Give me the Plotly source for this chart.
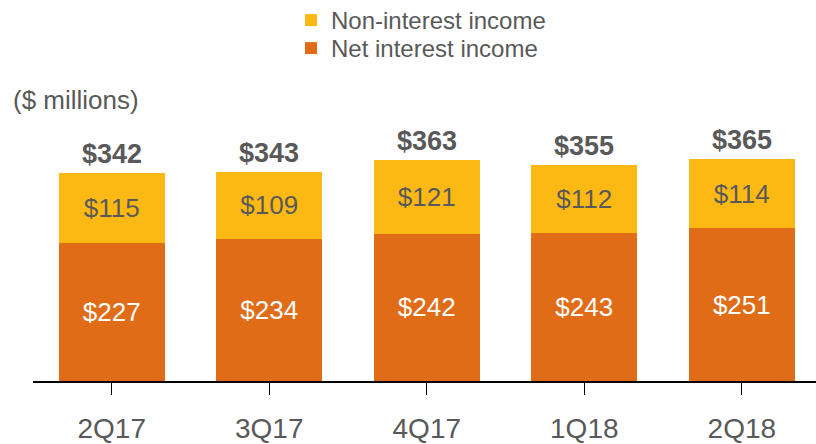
import plotly.graph_objects as go

quarters = ["2Q17", "3Q17", "4Q17", "1Q18", "2Q18"]
net_interest = [227, 234, 242, 243, 251]
non_interest = [115, 109, 121, 112, 114]
totals = [342, 343, 363, 355, 365]

ORANGE = "#E06C17"
YELLOW = "#FDB913"
GRAY = "#595959"
FONT = "Liberation Sans, Arial, sans-serif"

fig = go.Figure()
fig.add_trace(go.Bar(
    x=quarters, y=net_interest, name="Net interest income", legend="legend2",
    marker=dict(color=ORANGE, line=dict(width=0)),
    text=[f"${v}" for v in net_interest], textposition="inside",
    insidetextanchor="middle", textfont=dict(color="white", size=26, family=FONT),
    hoverinfo="skip",
))
fig.add_trace(go.Bar(
    x=quarters, y=non_interest, name="Non-interest income", legend="legend",
    marker=dict(color=YELLOW, line=dict(width=0)),
    text=[f"${v}" for v in non_interest], textposition="inside",
    insidetextanchor="middle", textfont=dict(color=GRAY, size=26, family=FONT),
    hoverinfo="skip",
))

for q, t in zip(quarters, totals):
    fig.add_annotation(x=q, y=t, text=f"<b>${t}</b>", showarrow=False,
                       yanchor="bottom", yshift=2,
                       font=dict(size=27, color=GRAY, family=FONT))

fig.add_annotation(xref="paper", yref="paper", x=-22/783, y=(381-100)/381,
                   text="($ millions)", showarrow=False, xanchor="left",
                   yanchor="middle", font=dict(size=26, color=GRAY, family=FONT))

legend_common = dict(xanchor="left", yanchor="top",
                     font=dict(size=24, color=GRAY, family=FONT),
                     bgcolor="rgba(0,0,0,0)", itemsizing="constant")

fig.update_layout(
    width=816, height=444,
    margin=dict(l=33, r=0, t=0, b=63, autoexpand=False),
    barmode="stack", bargap=0.327,
    plot_bgcolor="white", paper_bgcolor="white",
    font=dict(family=FONT, color=GRAY),
    uniformtext=dict(minsize=10, mode="show"),
    legend=dict(x=(291-33)/783, y=1 + 2/381, **legend_common),
    legend2=dict(x=(291-33)/783, y=1 - 26/381, **legend_common),
    xaxis=dict(range=[-0.5, 4.471], showgrid=False, showline=True, automargin=False,
               linecolor="black", linewidth=2, ticks="outside", ticklen=12,
               tickcolor="black", tickwidth=1,
               tickfont=dict(size=28, color=GRAY, family=FONT), ticklabelstandoff=9),
    yaxis=dict(range=[0, 626], visible=False, showgrid=False, zeroline=False,
               automargin=False),
    showlegend=True,
)

fig.write_html("out.html", config={"displayModeBar": False},
               post_script="document.body.style.margin='0px';document.body.style.overflow='hidden';")
